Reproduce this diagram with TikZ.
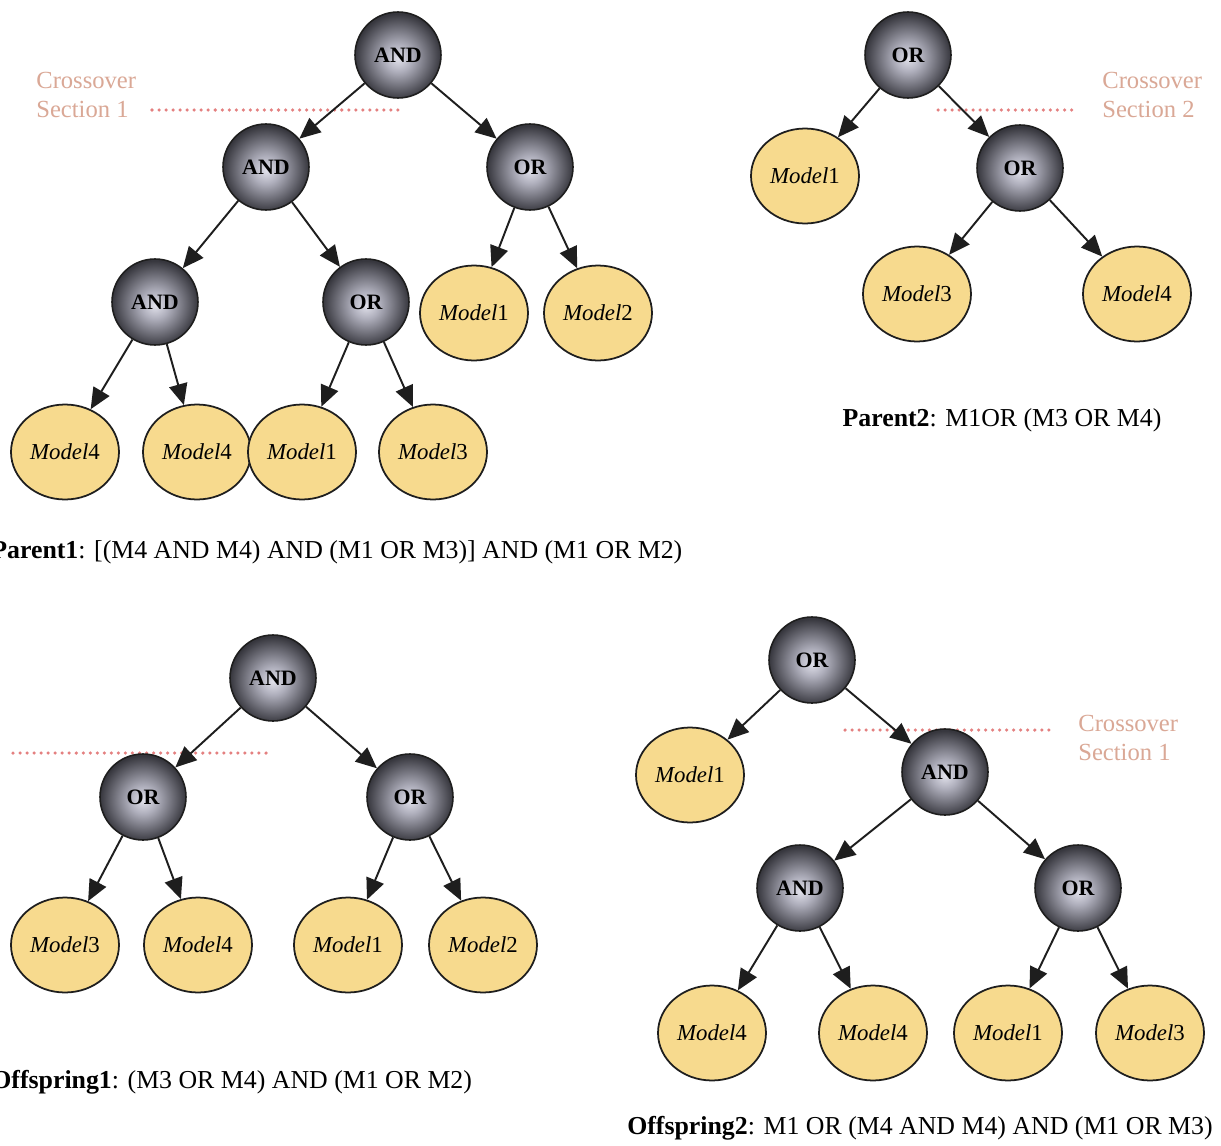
\documentclass[tikz,border=0pt]{standalone}
\usepackage{fontspec}
\setmainfont{Liberation Serif}
\usetikzlibrary{shapes.geometric,arrows.meta}
\definecolor{leafc}{RGB}{247,218,142}
\definecolor{gatein}{RGB}{225,225,235}
\definecolor{gatemid}{RGB}{175,175,188}
\definecolor{gateout}{RGB}{55,55,62}
\definecolor{xred}{RGB}{228,128,128}
\definecolor{xtxt}{RGB}{218,168,150}
\definecolor{edge}{RGB}{30,30,30}
\pgfdeclareradialshading{gateball}{\pgfpoint{0bp}{-2bp}}{color(0bp)=(gatein); color(8bp)=(gatemid); color(25bp)=(gateout); color(50bp)=(gateout)}
\tikzset{
  gate/.style={circle, draw=edge, line width=0.9pt, minimum size=1.72cm, inner sep=0pt,
    shading=gateball, font=\fontsize{12.5}{14}\selectfont\bfseries},
  leaf/.style={ellipse, draw=edge, line width=1pt, fill=leafc, minimum width=2.16cm,
    minimum height=1.9cm, inner sep=0pt, font=\fontsize{13}{15}\selectfont},
  arr/.style={-{Triangle[length=12pt,width=10.5pt]}, line width=1.1pt, draw=edge},
  xline/.style={draw=xred, line width=2pt, line cap=round, dash pattern=on 0pt off 4pt},
  xtext/.style={text=xtxt, align=left, anchor=west, inner sep=0pt, font=\fontsize{14}{17}\selectfont},
  lab/.style={inner sep=0pt, font=\fontsize{14.7}{17}\selectfont}
}
\newcommand{\mdl}[1]{\textit{Model}#1}
\begin{document}
\begin{tikzpicture}[x=0.02cm,y=-0.02cm]
\useasboundingbox[fill=white] (0,0) rectangle (1221,1146);

% ---------- dotted crossover lines ----------
\coordinate (d1s) at (152,110); \coordinate (d1e) at (405,110);
\coordinate (d2s) at (938,110); \coordinate (d2e) at (1075,110);
\coordinate (d3s) at (13,753);  \coordinate (d3e) at (267,753);
\coordinate (d4s) at (845,730); \coordinate (d4e) at (1055,730);
\draw[xline] (d1s) -- (d1e);
\draw[xline] (d2s) -- (d2e);
\draw[xline] (d3s) -- (d3e);
\draw[xline] (d4s) -- (d4e);

\node[xtext] (x1) at (36,95) {Crossover\\Section 1};
\node[xtext] (x2) at (1102,95) {Crossover\\Section 2};
\node[xtext] (x4) at (1078,738) {Crossover\\Section 1};

% ---------- Parent1 ----------
\node[gate] (a0) at (398,55) {AND};
\node[gate] (a1) at (266,167) {AND};
\node[gate] (a2) at (530,167) {OR};
\node[gate] (a3) at (155,302) {AND};
\node[gate] (a4) at (366,302) {OR};
\node[leaf] (a5) at (474,313) {\mdl{1}};
\node[leaf] (a6) at (598,313) {\mdl{2}};
\node[leaf] (a7) at (65,452) {\mdl{4}};
\node[leaf] (a8) at (197,452) {\mdl{4}};
\node[leaf] (a9) at (302,452) {\mdl{1}};
\node[leaf] (a10) at (433,452) {\mdl{3}};
\draw[arr] (a0) -- (a1);
\draw[arr] (a0) -- (a2);
\draw[arr] (a1) -- (a3);
\draw[arr] (a1) -- (a4);
\draw[arr] (a2) -- (a5);
\draw[arr] (a2) -- (a6);
\draw[arr] (a3) -- (a7);
\draw[arr] (a3) -- (a8);
\draw[arr] (a4) -- (a9);
\draw[arr] (a4) -- (a10);
\node[lab, anchor=west] (l1) at (-9,552) {\textbf{Parent1}: [(M4 AND M4) AND (M1 OR M3)] AND (M1 OR M2)};

% ---------- Parent2 ----------
\node[gate] (b0) at (908,55) {OR};
\node[leaf] (b1) at (805,176) {\mdl{1}};
\node[gate] (b2) at (1020,168) {OR};
\node[leaf] (b3) at (917,294) {\mdl{3}};
\node[leaf] (b4) at (1137,294) {\mdl{4}};
\draw[arr] (b0) -- (b1);
\draw[arr] (b0) -- (b2);
\draw[arr] (b2) -- (b3);
\draw[arr] (b2) -- (b4);
\node[lab] (l2) at (1002,420) {\textbf{Parent2}: M1OR (M3 OR M4)};

% ---------- Offspring1 ----------
\node[gate] (c0) at (273,678) {AND};
\node[gate] (c1) at (143,797) {OR};
\node[gate] (c2) at (410,797) {OR};
\node[leaf] (c3) at (65,945) {\mdl{3}};
\node[leaf] (c4) at (198,945) {\mdl{4}};
\node[leaf] (c5) at (348,945) {\mdl{1}};
\node[leaf] (c6) at (483,945) {\mdl{2}};
\draw[arr] (c0) -- (c1);
\draw[arr] (c0) -- (c2);
\draw[arr] (c1) -- (c3);
\draw[arr] (c1) -- (c4);
\draw[arr] (c2) -- (c5);
\draw[arr] (c2) -- (c6);
\node[lab, anchor=west] (l3) at (-9,1082) {\textbf{Offspring1}: (M3 OR M4) AND (M1 OR M2)};

% ---------- Offspring2 ----------
\node[gate] (e0) at (812,660) {OR};
\node[leaf] (e1) at (690,775) {\mdl{1}};
\node[gate] (e2) at (945,772) {AND};
\node[gate] (e3) at (800,888) {AND};
\node[gate] (e4) at (1078,888) {OR};
\node[leaf] (e5) at (712,1033) {\mdl{4}};
\node[leaf] (e6) at (873,1033) {\mdl{4}};
\node[leaf] (e7) at (1008,1033) {\mdl{1}};
\node[leaf] (e8) at (1150,1033) {\mdl{3}};
\draw[arr] (e0) -- (e1);
\draw[arr] (e0) -- (e2);
\draw[arr] (e2) -- (e3);
\draw[arr] (e2) -- (e4);
\draw[arr] (e3) -- (e5);
\draw[arr] (e3) -- (e6);
\draw[arr] (e4) -- (e7);
\draw[arr] (e4) -- (e8);
\node[lab] (l4) at (920,1128) {\textbf{Offspring2}: M1 OR (M4 AND M4) AND (M1 OR M3)};
\end{tikzpicture}
\end{document}
